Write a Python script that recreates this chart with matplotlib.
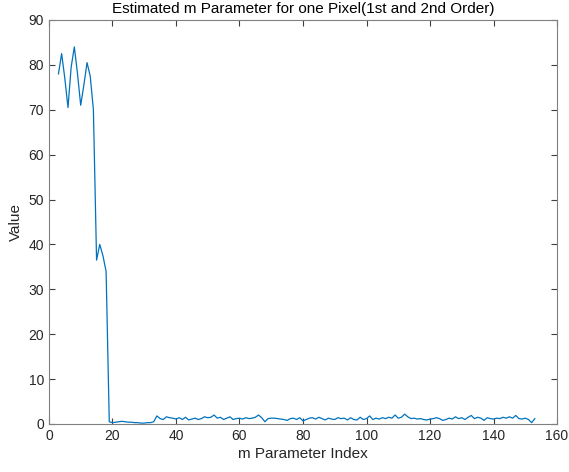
import numpy as np
import matplotlib
matplotlib.use("Agg")
import matplotlib.pyplot as plt

# values, index 3..153
peak_x = [3, 4, 5, 6, 7, 8, 9, 10, 11, 12, 13, 14, 15, 16, 17, 18]
peak_y = [78, 82.5, 77, 70.5, 79.5, 84, 78, 71, 75.5, 80.5, 77.5, 70, 36.5, 40, 37.5, 34]

low_y = [0.5, 0.3, 0.4, 0.5, 0.6, 0.5, 0.4, 0.4, 0.3, 0.3, 0.2, 0.2, 0.3, 0.3, 0.5,
         1.8,
         1.2, 1.0, 1.6, 1.4, 1.3, 1.1, 1.4, 1.0, 1.5, 0.9,
         1.1, 1.3, 1.0, 1.2, 1.6, 1.4, 1.5, 2.0, 1.3, 1.5,
         1.0, 1.3, 1.6, 1.0, 1.2, 1.3, 1.1, 1.4, 1.2, 1.3,
         1.5, 2.0, 1.4, 0.5, 1.2, 1.3, 1.3, 1.2, 1.1, 1.0,
         0.8, 1.2, 1.3, 1.0, 1.4, 0.7, 1.0, 1.3, 1.4, 1.1,
         1.5, 1.2, 0.9, 1.3, 1.1, 1.0, 1.4, 1.2, 1.3, 0.9,
         1.4, 1.0, 0.9, 1.5, 1.0, 1.2, 1.8, 1.0, 1.3, 1.1,
         1.4, 1.2, 1.5, 1.3, 2.0, 1.3, 1.5, 2.2, 1.6, 1.2,
         1.3, 1.1, 1.2, 1.0, 0.9, 1.1, 1.2, 1.4, 1.2, 0.8,
         1.0, 1.3, 1.1, 1.6, 1.2, 1.4, 1.0, 1.5, 1.9, 1.2,
         1.5, 1.3, 0.8, 1.4, 1.2, 1.1, 1.3, 1.2, 1.5, 1.3,
         1.6, 1.3, 1.9, 1.2, 1.1, 1.3, 1.0, 0.3, 1.2]
low_x = list(range(19, 19 + len(low_y)))

x = np.array(peak_x + low_x)
y = np.array(peak_y + low_y)

plt.rcParams['font.family'] = ['Liberation Sans', 'DejaVu Sans']
grey = '#262626'
axgrey = '#808080'

fig = plt.figure(figsize=(5.69, 4.72), dpi=100)
ax = fig.add_axes([0.086, 0.1017, 0.893, 0.856])
ax.plot(x, y, color='#0072BD', linewidth=0.9)

ax.set_xlim(0, 160)
ax.set_ylim(0, 90)
ax.set_xticks(np.arange(0, 161, 20))
ax.set_yticks(np.arange(0, 91, 10))
ax.tick_params(direction='in', top=True, right=True, length=4, width=0.8,
               labelsize=10, color='#404040', labelcolor=grey)
for s in ax.spines.values():
    s.set_color(axgrey)
    s.set_linewidth(0.8)

ax.set_title('Estimated m Parameter for one Pixel(1st and 2nd Order)', fontsize=11, color='#000000', pad=5)
ax.set_xlabel('m Parameter Index', fontsize=11, color=grey, labelpad=3)
ax.set_ylabel('Value', fontsize=11, color=grey, labelpad=4)

fig.savefig('out.png', dpi=100)
